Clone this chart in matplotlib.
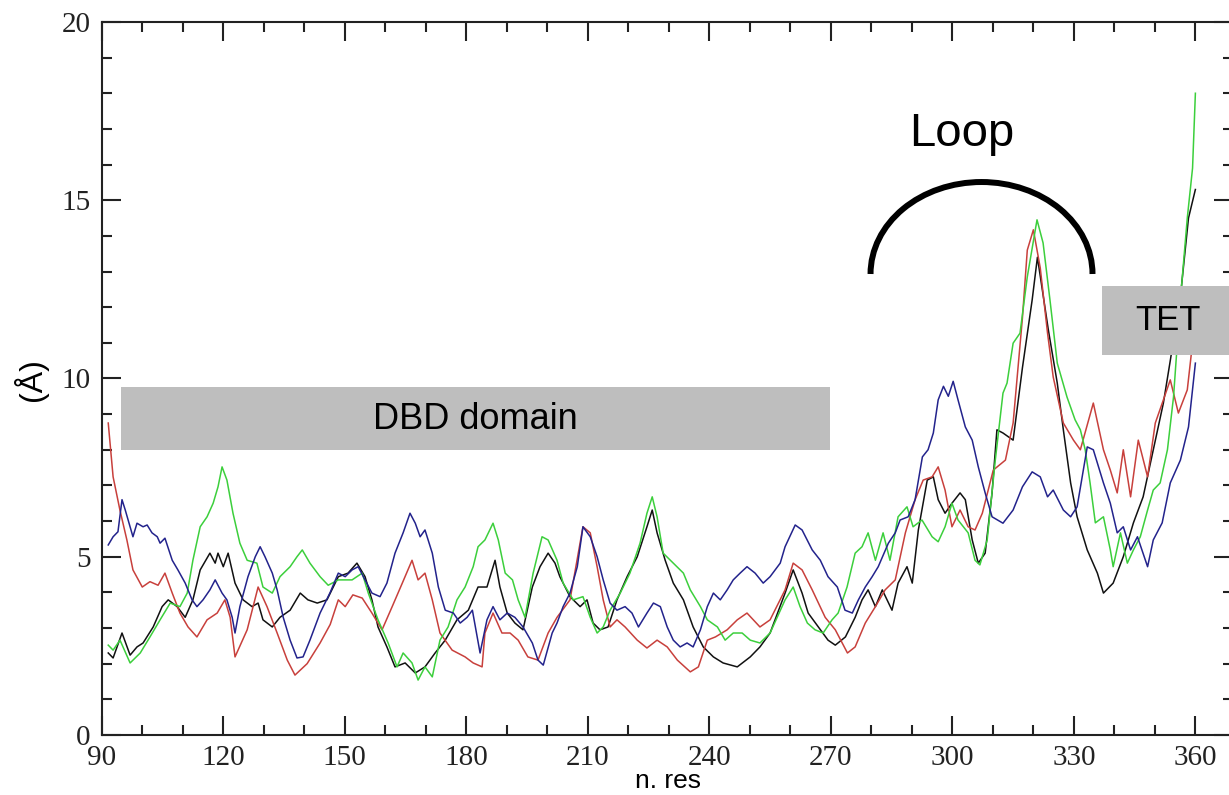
import matplotlib.pyplot as plt
from matplotlib.patches import Rectangle, Arc

# (residue, value) pairs, one list per run
black = [(91.6, 2.30), (92.8, 2.16), (95.0, 2.86), (97.0, 2.24), (98.7, 2.47), (100.2, 2.58), (102.7, 3.03),
         (104.9, 3.60), (106.4, 3.79), (108.6, 3.60), (110.6, 3.30), (112.5, 3.79), (114.3, 4.63), (116.7, 5.10),
         (118.0, 4.82), (118.7, 5.10), (120.0, 4.72), (121.2, 5.10), (122.9, 4.26), (124.9, 3.79), (127.1, 3.60),
         (128.6, 3.70), (129.8, 3.23), (132.1, 3.03), (134.0, 3.30), (136.5, 3.50), (139.0, 3.98), (140.9, 3.79),
         (143.2, 3.70), (145.6, 3.79), (148.4, 4.44), (150.8, 4.54), (153.0, 4.82), (155.0, 4.44), (156.7, 3.79),
         (158.2, 3.03), (160.4, 2.47), (162.4, 1.91), (164.9, 2.02), (167.4, 1.74), (169.8, 1.91), (172.3, 2.30),
         (174.8, 2.66), (177.7, 3.23), (180.5, 3.50), (182.9, 4.15), (185.1, 4.15), (187.1, 4.90), (188.3, 4.15),
         (190.1, 3.42), (192.0, 3.14), (194.0, 2.95), (196.3, 4.15), (198.2, 4.72), (200.2, 5.10), (201.9, 4.82),
         (203.1, 4.44), (205.6, 3.88), (208.1, 3.60), (209.8, 3.79), (211.3, 3.14), (213.0, 2.95), (215.0, 3.03),
         (217.2, 3.79), (219.7, 4.44), (222.2, 5.00), (224.6, 5.84), (225.9, 6.31), (227.1, 5.67), (229.1, 4.90),
         (231.1, 4.26), (233.6, 3.79), (236.0, 3.03), (238.5, 2.47), (241.0, 2.19), (243.4, 2.02), (246.9, 1.91),
         (250.1, 2.19), (252.5, 2.47), (255.0, 2.86), (258.7, 3.98), (260.7, 4.63), (262.9, 3.98), (264.4, 3.42),
         (266.9, 3.03), (269.3, 2.66), (271.1, 2.52), (273.6, 2.75), (276.0, 3.30), (277.7, 3.79), (279.2, 4.07),
         (281.0, 3.60), (282.7, 4.07), (285.1, 3.50), (286.6, 4.26), (288.8, 4.72), (290.1, 4.26), (291.6, 5.75),
         (293.8, 7.15), (295.3, 7.24), (296.5, 6.60), (298.2, 6.22), (299.9, 6.50), (301.9, 6.79), (303.2, 6.60),
         (304.9, 5.47), (306.4, 4.82), (308.1, 5.10), (309.8, 6.79), (311.0, 8.56), (312.5, 8.47), (315.0, 8.27),
         (317.3, 10.30), (319.7, 12.20), (321.0, 13.40), (322.2, 12.50), (323.7, 11.36), (325.9, 9.87),
         (327.4, 8.56), (329.2, 7.07), (330.8, 6.12), (333.3, 5.19), (335.8, 4.54), (337.3, 3.98), (339.7, 4.26),
         (342.2, 5.00), (344.7, 5.95), (347.1, 6.68), (349.6, 8.00), (352.1, 9.31), (353.8, 10.50), (356.3, 12.30),
         (358.3, 14.50), (360.0, 15.30)]

red = [(91.6, 8.75), (92.8, 7.24), (94.5, 6.30), (96.2, 5.47), (97.7, 4.63), (100.0, 4.15), (101.9, 4.30),
       (103.9, 4.20), (105.6, 4.54), (107.4, 3.98), (109.3, 3.42), (111.3, 3.03), (113.5, 2.75), (116.0, 3.23),
       (118.5, 3.42), (120.4, 3.79), (121.7, 3.30), (122.9, 2.19), (125.9, 2.95), (128.6, 4.15), (130.8, 3.60),
       (133.3, 2.86), (135.8, 2.10), (137.7, 1.68), (140.7, 2.00), (143.9, 2.58), (146.4, 3.10), (148.4, 3.79),
       (150.1, 3.60), (152.0, 3.93), (154.3, 3.84), (156.7, 3.42), (159.2, 2.95), (161.7, 3.60), (164.2, 4.26),
       (166.6, 4.90), (168.1, 4.35), (169.8, 4.54), (171.6, 3.79), (173.5, 2.86), (176.5, 2.38), (179.7, 2.19),
       (181.7, 2.02), (183.9, 1.91), (184.6, 2.86), (186.6, 3.42), (188.8, 2.86), (190.8, 2.86), (192.8, 2.66),
       (195.2, 2.19), (197.7, 2.10), (200.2, 2.86), (202.4, 3.30), (205.6, 3.79), (208.8, 5.84), (210.6, 5.67),
       (212.3, 4.72), (213.8, 3.79), (215.5, 3.03), (217.2, 3.23), (219.2, 3.03), (222.2, 2.66), (224.6, 2.44),
       (227.1, 2.66), (229.6, 2.47), (232.1, 2.10), (235.3, 1.77), (237.3, 1.91), (239.5, 2.66), (241.5, 2.75),
       (244.4, 2.95), (246.9, 3.23), (249.3, 3.42), (252.5, 3.03), (255.0, 3.23), (258.7, 4.07), (260.7, 4.82),
       (262.9, 4.63), (265.4, 4.07), (268.6, 3.30), (271.1, 2.95), (274.1, 2.30), (276.0, 2.47), (278.5, 3.14),
       (281.0, 3.60), (283.4, 4.07), (285.9, 4.35), (288.4, 5.67), (290.8, 6.60), (292.8, 7.15), (295.0, 7.24),
       (296.5, 7.52), (298.2, 6.87), (299.9, 5.84), (301.9, 6.31), (303.9, 5.84), (305.6, 5.75), (307.4, 6.22),
       (310.1, 7.43), (313.1, 7.71), (315.0, 8.75), (317.3, 11.70), (318.5, 13.60), (320.0, 14.17), (321.7, 13.10),
       (323.5, 11.27), (324.9, 10.04), (327.4, 8.75), (329.9, 8.27), (331.6, 8.00), (334.8, 9.31), (337.3, 8.00),
       (339.0, 7.43), (340.7, 6.79), (342.2, 8.00), (344.0, 6.68), (345.9, 8.27), (348.2, 7.24), (350.1, 8.75),
       (352.1, 9.40), (353.8, 9.96), (355.8, 9.03), (358.0, 9.68), (359.5, 11.20)]

green = [(91.6, 2.52), (92.8, 2.38), (94.5, 2.66), (97.0, 2.02), (99.5, 2.30), (101.9, 2.75), (104.4, 3.23),
         (106.9, 3.70), (109.3, 3.60), (111.1, 3.98), (112.5, 4.90), (114.3, 5.84), (116.0, 6.12), (117.5, 6.50),
         (118.7, 6.96), (119.7, 7.52), (120.9, 7.15), (122.4, 6.22), (124.1, 5.38), (125.9, 4.90), (128.3, 4.82),
         (129.8, 4.15), (132.1, 3.98), (134.0, 4.44), (136.5, 4.72), (138.2, 5.00), (139.5, 5.19), (141.4, 4.82),
         (143.9, 4.44), (145.9, 4.20), (148.4, 4.35), (151.8, 4.35), (154.3, 4.54), (155.8, 3.98), (158.2, 3.23),
         (160.7, 2.58), (162.9, 1.91), (164.4, 2.30), (166.6, 2.02), (168.1, 1.54), (169.8, 1.91), (171.6, 1.63),
         (173.5, 2.66), (175.5, 3.03), (177.7, 3.79), (179.7, 4.15), (181.7, 4.72), (182.9, 5.28), (184.6, 5.47),
         (186.6, 5.94), (187.9, 5.47), (189.6, 4.54), (191.4, 4.35), (192.8, 3.79), (194.5, 3.30), (196.5, 4.54),
         (198.7, 5.56), (200.2, 5.47), (202.4, 4.90), (203.9, 4.26), (206.4, 3.79), (208.8, 3.88), (210.6, 3.30),
         (212.3, 2.86), (213.8, 3.03), (215.5, 3.50), (218.0, 3.98), (220.4, 4.54), (222.9, 5.38), (224.6, 6.22),
         (225.9, 6.68), (227.1, 6.12), (228.6, 5.10), (231.1, 4.82), (233.6, 4.54), (235.3, 4.07), (237.8, 3.60),
         (239.5, 3.23), (242.0, 3.03), (243.9, 2.66), (245.9, 2.86), (248.1, 2.86), (250.1, 2.66), (252.5, 2.58),
         (255.0, 2.86), (258.7, 3.79), (260.7, 4.15), (262.4, 3.60), (264.2, 3.14), (266.1, 2.95), (268.1, 2.86),
         (270.3, 3.23), (271.8, 3.42), (274.0, 4.15), (276.0, 5.10), (277.7, 5.28), (279.2, 5.67), (281.0, 4.90),
         (282.9, 5.67), (284.6, 4.90), (286.6, 6.12), (288.8, 6.40), (290.3, 5.84), (292.5, 6.03), (295.0, 5.56),
         (296.5, 5.42), (298.2, 5.84), (299.9, 6.50), (301.4, 6.03), (303.9, 5.67), (305.6, 4.90), (306.8, 4.77),
         (308.6, 5.47), (310.6, 7.71), (312.5, 9.59), (313.5, 9.87), (315.0, 10.99), (316.7, 11.27), (318.5, 12.85),
         (320.9, 14.45), (322.4, 13.80), (324.1, 12.20), (325.9, 10.43), (328.3, 9.48), (330.3, 8.84), (331.6, 8.56),
         (332.8, 8.00), (334.0, 7.07), (335.3, 5.95), (337.3, 6.12), (339.0, 5.19), (339.7, 4.72), (341.5, 5.67),
         (343.2, 4.82), (344.7, 5.19), (346.4, 5.56), (348.2, 6.31), (349.6, 6.87), (351.3, 7.07), (353.1, 8.00),
         (354.6, 9.48), (356.3, 12.20), (358.0, 14.50), (359.3, 15.90), (360.0, 18.00)]

blue = [(91.6, 5.33), (92.8, 5.56), (94.0, 5.70), (95.0, 6.60), (95.8, 6.31), (97.0, 5.84), (97.7, 5.56),
        (98.7, 5.94), (100.2, 5.84), (101.2, 5.89), (102.4, 5.67), (103.7, 5.56), (104.4, 5.38), (105.6, 5.52),
        (107.4, 4.90), (108.8, 4.63), (110.6, 4.26), (112.3, 3.79), (113.5, 3.60), (115.0, 3.79), (116.7, 4.07),
        (118.0, 4.35), (119.7, 3.98), (120.9, 3.79), (122.2, 3.30), (122.9, 2.86), (124.1, 3.60), (126.1, 4.44),
        (127.9, 5.00), (129.1, 5.28), (130.3, 5.00), (132.1, 4.54), (133.3, 4.07), (134.8, 3.30), (136.5, 2.66),
        (138.2, 2.16), (139.7, 2.19), (141.4, 2.66), (143.9, 3.42), (146.4, 4.00), (148.4, 4.54), (150.1, 4.44),
        (151.8, 4.63), (153.3, 4.72), (155.0, 4.35), (156.7, 3.98), (158.7, 3.88), (160.4, 4.26), (162.4, 5.10),
        (164.4, 5.67), (166.1, 6.22), (167.4, 5.94), (168.6, 5.56), (169.8, 5.75), (171.6, 5.10), (173.1, 4.15),
        (174.8, 3.50), (176.8, 3.42), (178.5, 3.14), (180.2, 3.30), (181.5, 3.50), (183.4, 2.30), (185.1, 3.23),
        (186.6, 3.60), (188.3, 3.23), (190.1, 3.42), (192.0, 3.30), (194.0, 3.03), (196.3, 2.58), (197.7, 2.10),
        (199.0, 1.96), (201.2, 2.86), (202.4, 3.14), (203.9, 3.60), (205.6, 3.98), (207.4, 4.72), (208.8, 5.84),
        (210.6, 5.56), (212.3, 5.00), (213.8, 4.35), (215.5, 3.70), (217.2, 3.50), (219.2, 3.60), (220.9, 3.42),
        (222.5, 3.03), (224.6, 3.42), (226.2, 3.70), (227.9, 3.60), (229.6, 3.03), (231.1, 2.66), (232.8, 2.47),
        (234.5, 2.58), (236.0, 2.47), (237.8, 2.95), (239.5, 3.60), (241.0, 3.98), (242.7, 3.79), (244.4, 4.07),
        (245.9, 4.35), (247.6, 4.54), (249.3, 4.72), (251.3, 4.54), (253.3, 4.26), (255.0, 4.44), (257.5, 4.82),
        (258.7, 5.28), (261.2, 5.89), (262.9, 5.75), (265.4, 5.19), (267.4, 4.90), (269.3, 4.44), (271.6, 4.15),
        (273.5, 3.50), (275.3, 3.42), (276.8, 3.79), (278.5, 4.15), (280.2, 4.44), (281.7, 4.72), (284.2, 5.38),
        (285.9, 5.67), (287.1, 6.03), (289.1, 6.12), (290.8, 6.60), (292.6, 7.80), (294.0, 8.00), (295.3, 8.47),
        (296.5, 9.40), (297.8, 9.78), (299.0, 9.50), (300.2, 9.92), (301.4, 9.40), (303.2, 8.64), (304.9, 8.27),
        (306.4, 7.52), (308.1, 6.79), (309.8, 6.12), (312.5, 5.94), (315.0, 6.31), (317.3, 6.96), (319.7, 7.38),
        (321.7, 7.24), (323.5, 6.68), (324.9, 6.87), (327.4, 6.31), (329.2, 6.12), (330.8, 6.40), (333.3, 8.08),
        (334.8, 8.00), (337.3, 7.07), (339.0, 6.50), (340.7, 5.67), (342.2, 5.84), (344.0, 5.19), (345.7, 5.56),
        (348.2, 4.72), (349.6, 5.47), (351.8, 5.95), (353.8, 7.07), (356.3, 7.71), (358.3, 8.64), (360.0, 10.43)]

series = [(black, '#111111'), (red, '#c8403c'), (green, '#3ccf3c'), (blue, '#23238c')]

fig = plt.figure(figsize=(12.29, 7.95), dpi=100)
ax = fig.add_axes([0.0828, 0.0755, 0.9205, 0.8969])

for pts, col in series:
    xs = [p[0] for p in pts]
    ys = [p[1] for p in pts]
    ax.plot(xs, ys, color=col, lw=1.1, zorder=2)

ax.set_xlim(90, 369.3)
ax.set_ylim(0, 20)
ax.set_xticks(range(90, 361, 30))
ax.set_xticks(range(90, 370, 10), minor=True)
ax.set_yticks(range(0, 21, 5))
ax.set_yticks(range(0, 21, 1), minor=True)
ax.tick_params(which='both', direction='in', top=True, right=True, width=1.5, colors='#222222')
ax.tick_params(which='major', length=14, labelsize=21)
ax.tick_params(which='minor', length=7.5)
ax.tick_params(axis='x', pad=7)
ax.tick_params(axis='y', pad=8)
for lab in ax.get_xticklabels() + ax.get_yticklabels():
    lab.set_family('Liberation Serif')
for sp in ax.spines.values():
    sp.set_linewidth(1.5)
    sp.set_color('#222222')

ax.set_xlabel('n. res', family='Liberation Sans', fontsize=19)
ax.xaxis.set_label_coords(0.5006, -0.0484)
ax.xaxis.label.set_va('top')
ax.set_ylabel('(Å)', family='Liberation Sans', fontsize=23)
ax.yaxis.set_label_coords(-0.0634, 0.498)
ax.yaxis.label.set_va('center')

# domain annotations
ax.add_patch(Rectangle((94.8, 7.99), 175.0, 1.77, facecolor='#bebebe', edgecolor='none', zorder=3))
ax.text(182.2, 8.85, 'DBD domain', family='Liberation Sans', fontsize=26, ha='center', va='center', zorder=4)
ax.add_patch(Rectangle((337.0, 10.66), 40.0, 1.93, facecolor='#bebebe', edgecolor='none', zorder=3, clip_on=False))
ax.text(353.3, 11.62, 'TET', family='Liberation Sans', fontsize=25, ha='center', va='center', zorder=4)
ax.text(302.4, 16.85, 'Loop', family='Liberation Sans', fontsize=34, ha='center', va='center', zorder=4)
ax.add_patch(Arc((307.2, 12.93), 54.8, 5.16, theta1=0, theta2=180, lw=4.3, color='black', zorder=4))

fig.savefig('out.png', dpi=100)
